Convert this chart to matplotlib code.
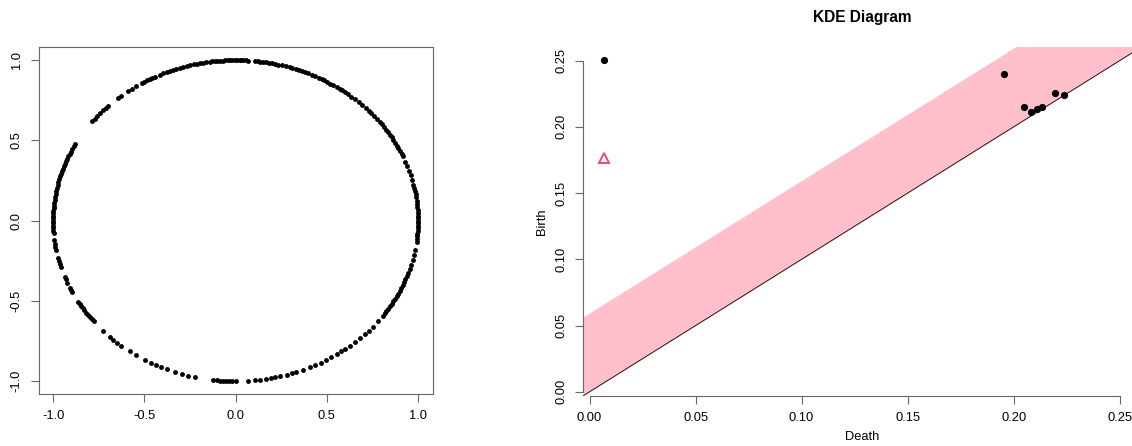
import numpy as np
import matplotlib
matplotlib.use("Agg")
import matplotlib.pyplot as plt

plt.rcParams['font.family'] = ['Liberation Sans', 'DejaVu Sans']

# ---- sample on the unit circle: angle of each point (degrees) ----
theta_deg = [
    0.0, 0.8, 1.8, 2.8, 3.9, 5.0, 6.0, 7.2, 8.3, 9.5, 10.6, 11.8, 13.0,
    14.6, 16.5, 18.2, 20.0, 21.6,
    23.8, 24.6, 25.6, 26.8, 27.8, 29.0, 30.1, 31.3, 32.4, 33.5, 34.6, 35.7, 36.9, 37.8,
    39.4,
    40.9, 41.9, 43.2, 44.6, 46.0,
    47.5, 49.2, 50.6, 51.9,
    53.1, 54.2, 55.1, 56.3, 57.6, 58.7,
    59.9, 60.9, 61.8, 62.9, 64.1, 65.2,
    66.5, 67.6, 68.5, 69.7, 70.7, 71.9, 72.8, 73.9,
    75.4, 76.5, 77.5, 78.6, 79.6, 80.4, 81.5, 82.3, 83.1, 84.0,
    86.0, 86.8, 87.6, 88.2, 88.7, 89.5, 90.3, 91.0, 91.8, 92.5, 93.4, 94.1,
    95.0, 95.8, 96.6, 97.3, 98.1, 99.2,
    100.2, 101.2, 102.2, 103.3, 104.4, 105.5, 106.6, 107.7,
    108.9, 109.9, 111.0, 112.2, 113.4, 114.5,
    116.3, 117.2, 118.0, 119.0, 120.0, 121.0,
    123.1, 124.7, 126.3,
    129.0, 130.2,
    134.3, 135.3, 136.4, 137.8, 139.2, 140.5, 141.8,
    151.4, 152.4, 153.4, 154.5, 155.4, 156.4, 157.3, 158.3, 159.3, 160.2,
    161.2, 162.1, 163.1, 164.0, 165.1, 166.2, 167.2, 168.2, 169.3, 170.4,
    171.5, 172.5, 173.6, 174.7, 175.6, 176.5, 177.4, 178.3, 179.2, 180.0,
    180.9, 181.8, 182.7, 183.6, 184.5,
    186.9, 188.2, 189.3, 190.5,
    193.4, 194.6, 195.8, 196.9,
    200.4, 201.5, 202.7,
    204.8, 205.6, 206.4,
    210.3, 211.3, 212.2, 213.0, 214.0, 215.0, 216.0, 217.0, 218.0, 218.9,
    223.6, 226.3, 228.0, 229.5, 231.3,
    234.6, 237.1,
    240.2, 242.3, 244.0, 246.0, 247.8,
    250.6, 253.0, 255.0, 257.1,
    262.9, 264.0, 265.0, 266.0, 267.0, 268.0, 269.0, 270.2,
    274.0, 276.0, 277.8, 279.7, 281.2, 282.5, 284.0, 286.5, 288.0, 289.4,
    291.8, 294.0, 295.7, 297.8, 299.8, 301.7, 303.7, 305.4, 307.0, 308.8,
    311.0, 312.8, 315.0, 316.8, 318.7, 321.5,
    323.7, 324.7, 325.7, 326.6, 327.7, 328.8, 329.9, 330.9, 332.0, 333.0,
    334.2, 335.3, 336.4, 337.5, 338.5, 339.9, 341.0,
    342.5, 344.0, 345.8, 347.8, 349.5,
    352.5, 353.5, 354.4, 355.3, 356.2, 357.2, 358.2, 359.1,
]

# ---- persistence diagram from the KDE filtration ----
dim0_death = [0.0068, 0.1956, 0.2196, 0.2236, 0.2050, 0.2082, 0.2111, 0.2135]
dim0_birth = [0.2503, 0.2397, 0.2258, 0.2240, 0.2152, 0.2109, 0.2132, 0.2147]
dim1_death = [0.0068]
dim1_birth = [0.1768]
band = 0.0596

left_ticks = [-1.0, -0.5, 0.0, 0.5, 1.0]
right_ticks = [0.00, 0.05, 0.10, 0.15, 0.20, 0.25]

W, H = 1132, 446
fig = plt.figure(figsize=(W / 100, H / 100), dpi=100)

TICK_FS = 9.3
AXCOL = '#666666'


def px_axes(left, top, right, bottom):
    return fig.add_axes([left / W, (H - bottom) / H, (right - left) / W, (bottom - top) / H])


# ---------------- left: point cloud ----------------
ax1 = px_axes(38.5, 47.3, 432.7, 394.0)
th = np.radians(theta_deg)
ax1.plot(np.cos(th), np.sin(th), 'o', color='black', markersize=3.5, markeredgewidth=0)
ax1.set_xlim(-1.08, 1.08)
ax1.set_ylim(-1.08, 1.08)
ax1.set_xticks(left_ticks)
ax1.set_yticks(left_ticks)
ax1.set_xticklabels([f"{v:.1f}" for v in left_ticks])
ax1.set_yticklabels([f"{v:.1f}" for v in left_ticks], rotation=90, va='center')
for s in ax1.spines.values():
    s.set_color(AXCOL)
    s.set_linewidth(0.8)
ax1.tick_params(direction='out', length=6, width=0.8, color=AXCOL,
                labelsize=TICK_FS, pad=5.5)

# ---------------- right: persistence diagram ----------------
allv = dim0_death + dim0_birth + dim1_death + dim1_birth
lo, hi = min(allv), max(allv)
ext = 0.04 * (hi - lo)
lim = (lo - ext, hi + ext)

ax2 = px_axes(583.3, 47.3, 1141.0, 395.7)
xs = np.array([lim[0], lim[1]])
ax2.fill_between(xs, xs, xs + band, color='#FFC0CB', linewidth=0, zorder=1)
ax2.plot(xs, xs, color='black', linewidth=0.6, zorder=2)
ax2.plot(dim0_death, dim0_birth, 'o', color='black', markersize=5.2,
         markeredgewidth=0, zorder=3)
ax2.plot(dim1_death, dim1_birth, '^', markerfacecolor='none',
         markeredgecolor='#DF536B', markersize=6.5, markeredgewidth=1.4, zorder=3)
ax2.set_xlim(*lim)
ax2.set_ylim(*lim)
ax2.set_xticks(right_ticks)
ax2.set_yticks(right_ticks)
ax2.set_xticklabels([f"{v:.2f}" for v in right_ticks])
ax2.set_yticklabels([f"{v:.2f}" for v in right_ticks], rotation=90, va='center')
ax2.spines['top'].set_visible(False)
ax2.spines['right'].set_visible(False)
for side in ('left', 'bottom'):
    ax2.spines[side].set_color(AXCOL)
    ax2.spines[side].set_linewidth(0.8)
    ax2.spines[side].set_bounds(right_ticks[0], right_ticks[-1])
ax2.tick_params(direction='out', length=6, width=0.8, color=AXCOL,
                labelsize=TICK_FS, pad=5.5)
ax2.set_xlabel('Death', fontsize=TICK_FS, labelpad=5)
ax2.set_ylabel('Birth', fontsize=TICK_FS, labelpad=5)
ax2.set_title('KDE Diagram', fontsize=11.2, fontweight='bold', pad=18)

fig.savefig('out.png', dpi=100)
